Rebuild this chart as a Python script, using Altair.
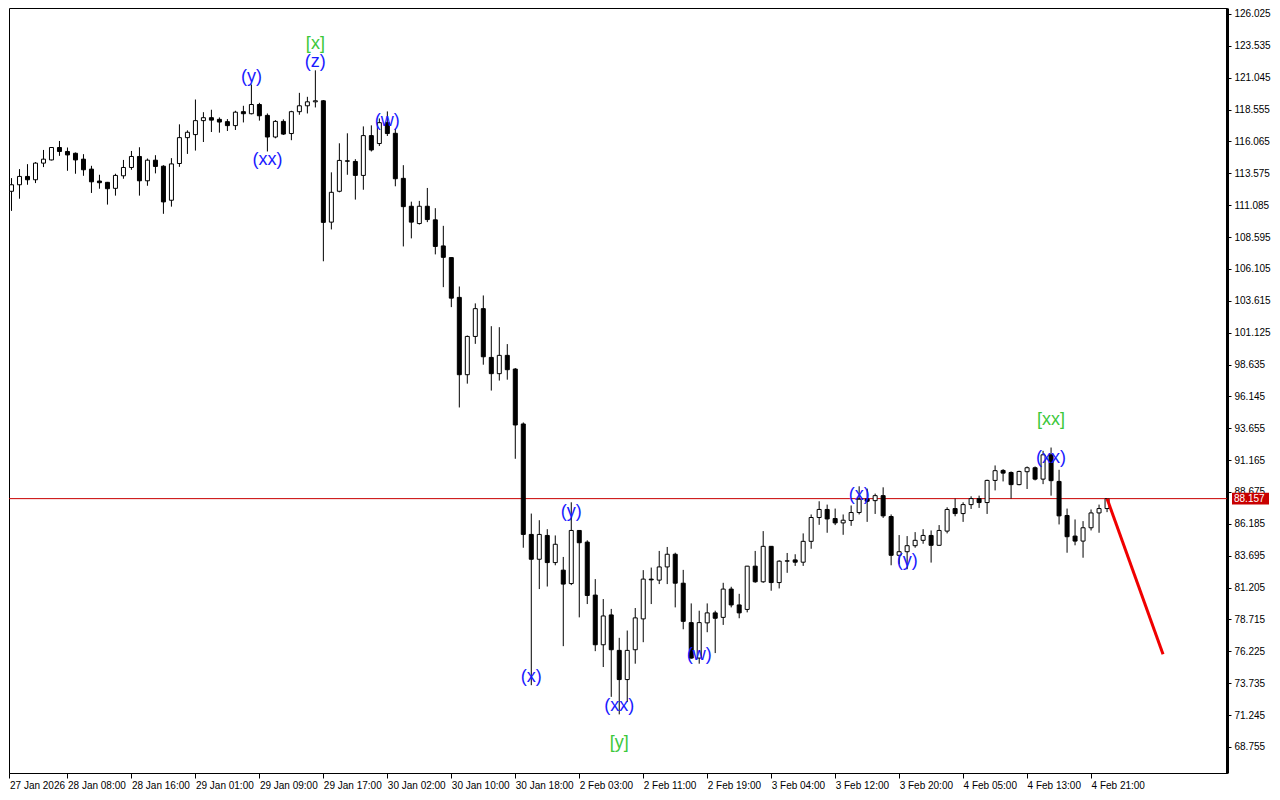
import altair as alt
import pandas as pd

# ---- candle data (hourly bars) ----
opens = [112.17, 112.68, 113.33, 113.07, 114.37, 114.62, 115.59, 115.28, 115.14, 114.68,
         113.90, 112.97, 112.87, 112.40, 113.38, 114.03, 114.89, 112.99, 114.60, 114.13,
         111.47, 114.34, 116.36, 116.60, 117.69, 117.92, 117.79, 117.61, 117.30, 118.39,
         118.23, 118.95, 118.10, 116.41, 117.63, 116.68, 118.39, 118.85, 119.16, 119.24,
         109.76, 112.17, 114.55, 114.50, 113.41, 116.52, 115.90, 117.53, 116.70, 113.18,
         111.00, 109.65, 111.00, 109.94, 107.90, 106.99, 103.88, 97.84, 100.83, 103.00,
         99.19, 97.92, 99.35, 98.28, 93.99, 85.36, 83.42, 85.28, 83.16, 82.57,
         81.52, 85.67, 84.76, 80.62, 76.74, 79.07, 76.30, 74.02, 76.35, 78.76,
         81.87, 81.79, 82.82, 83.81, 81.55, 78.47, 75.70, 78.45, 79.23, 78.88,
         81.09, 79.85, 79.50, 82.88, 81.66, 84.43, 81.60, 83.27, 83.37, 83.19,
         84.82, 86.68, 87.31, 86.60, 86.26, 86.45, 87.07, 88.13, 88.00, 88.39,
         86.76, 83.73, 84.01, 84.48, 84.90, 85.28, 84.51, 85.62, 87.38, 86.99,
         87.69, 88.16, 87.85, 89.58, 90.36, 90.20, 89.25, 90.26, 90.57, 89.68,
         91.58, 89.50, 86.84, 85.23, 84.84, 85.88, 87.04, 87.38]
highs = [113.20, 113.90, 114.29, 114.45, 115.40, 115.62, 116.10, 115.59, 115.20, 115.07,
         114.16, 113.46, 112.90, 113.54, 114.62, 115.32, 115.61, 114.73, 114.99, 114.21,
         114.76, 117.40, 116.93, 119.34, 118.35, 118.54, 117.94, 117.81, 118.46, 118.85,
         120.51, 119.08, 118.25, 117.73, 117.79, 118.46, 119.86, 119.55, 121.62, 119.30,
         113.65, 115.92, 116.70, 114.68, 117.24, 117.32, 117.86, 118.41, 117.06, 114.21,
         111.36, 111.42, 112.43, 110.85, 109.47, 107.00, 104.73, 100.90, 103.41, 104.03,
         101.63, 101.55, 100.23, 98.36, 94.11, 86.99, 86.47, 85.77, 85.28, 83.60,
         87.87, 85.70, 84.90, 81.87, 80.31, 79.54, 77.28, 77.85, 79.61, 82.57,
         82.77, 84.07, 84.38, 83.93, 82.59, 79.97, 79.40, 79.97, 79.40, 81.58,
         81.27, 80.72, 82.90, 84.07, 85.62, 84.45, 83.34, 83.91, 83.81, 85.44,
         86.92, 87.95, 87.69, 87.38, 86.92, 87.62, 89.12, 88.94, 88.55, 89.04,
         86.92, 85.31, 85.23, 85.54, 85.77, 85.67, 86.09, 87.48, 88.16, 87.87,
         88.34, 88.39, 89.64, 90.75, 90.46, 90.28, 90.34, 90.67, 90.67, 91.89,
         92.15, 90.41, 87.38, 86.53, 86.40, 87.31, 87.69, 88.18]
lows = [110.64, 111.59, 112.68, 112.81, 114.06, 114.58, 114.94, 113.77, 113.54, 113.38,
        112.04, 112.37, 111.13, 111.83, 113.15, 113.85, 111.83, 112.60, 113.57, 110.41,
        110.97, 114.08, 115.09, 115.35, 116.02, 116.80, 116.75, 116.88, 116.96, 117.55,
        118.18, 117.69, 115.28, 116.31, 116.57, 116.16, 118.15, 118.25, 118.72, 106.70,
        109.19, 112.09, 113.46, 111.52, 112.29, 115.28, 115.71, 116.49, 112.56, 107.86,
        108.49, 109.57, 109.76, 107.24, 104.68, 103.12, 95.28, 97.14, 100.25, 98.62,
        96.60, 97.38, 97.45, 91.27, 84.32, 73.58, 81.09, 81.29, 82.95, 76.63,
        81.40, 78.88, 79.92, 76.24, 75.00, 72.67, 71.30, 72.28, 75.26, 76.94,
        79.92, 81.48, 81.48, 79.66, 77.95, 75.65, 75.26, 77.72, 76.09, 78.29,
        79.66, 78.81, 79.27, 81.58, 81.58, 80.96, 81.14, 82.36, 82.90, 82.90,
        84.24, 86.11, 85.49, 86.09, 85.33, 86.03, 86.92, 86.34, 86.96, 86.65,
        82.95, 83.03, 82.64, 84.32, 84.63, 83.16, 84.48, 85.44, 86.78, 86.34,
        87.35, 87.43, 86.96, 88.80, 89.50, 88.16, 89.20, 88.91, 89.58, 89.29,
        88.39, 86.14, 83.93, 84.51, 83.54, 85.67, 85.49, 87.10]
closes = [112.68, 113.33, 113.07, 114.37, 114.68, 115.59, 115.28, 115.01, 114.62, 113.85,
          112.91, 112.84, 112.37, 113.41, 114.03, 114.89, 112.99, 114.60, 114.11, 111.34,
          114.31, 116.36, 116.78, 117.69, 117.92, 117.73, 117.58, 117.30, 118.35, 118.23,
          118.95, 118.07, 116.41, 117.63, 116.64, 118.39, 118.85, 119.16, 119.24, 109.74,
          112.09, 114.58, 114.52, 113.41, 116.52, 115.40, 117.53, 116.68, 113.15, 110.97,
          109.76, 111.00, 109.96, 107.86, 107.01, 103.82, 97.84, 100.83, 103.00, 99.24,
          97.92, 99.35, 98.23, 93.91, 85.36, 83.42, 85.36, 83.16, 84.59, 81.48,
          85.67, 84.71, 80.59, 76.74, 78.99, 76.35, 74.02, 76.30, 78.84, 81.87,
          81.81, 82.82, 83.81, 81.55, 78.57, 75.70, 78.47, 79.23, 78.81, 81.09,
          79.85, 79.23, 82.88, 81.66, 84.43, 81.60, 83.27, 83.30, 83.19, 84.82,
          86.68, 87.31, 86.57, 86.26, 86.47, 87.07, 88.11, 87.95, 88.39, 86.81,
          83.73, 84.01, 84.48, 84.90, 85.28, 84.51, 85.67, 87.31, 86.99, 87.69,
          88.16, 87.85, 89.58, 90.34, 90.15, 89.25, 90.28, 90.57, 89.68, 91.58,
          89.56, 86.81, 85.18, 84.84, 85.88, 87.04, 87.38, 88.157]

# ---- axes ----
x_tick_pos = [-0.25, 7, 15, 23, 31, 39, 47, 55, 63, 71, 79, 87, 95, 103, 111, 119, 127, 135]
x_tick_labels = ["27 Jan 2026", "28 Jan 08:00", "28 Jan 16:00", "29 Jan 01:00", "29 Jan 09:00",
                 "29 Jan 17:00", "30 Jan 02:00", "30 Jan 10:00", "30 Jan 18:00", "2 Feb 03:00",
                 "2 Feb 11:00", "2 Feb 19:00", "3 Feb 04:00", "3 Feb 12:00", "3 Feb 20:00",
                 "4 Feb 05:00", "4 Feb 13:00", "4 Feb 21:00"]
y_ticks = [126.025, 123.535, 121.045, 118.555, 116.065, 113.575, 111.085, 108.595, 106.105,
           103.615, 101.125, 98.635, 96.145, 93.655, 91.165, 88.675, 86.185, 83.695, 81.205,
           78.715, 76.225, 73.735, 71.245, 68.755]

current_price = 88.157

# forecast line
forecast_idx = [137, 144]
forecast_price = [88.157, 76.0]

# wave labels
label_text = ["[x]", "(z)", "(y)", "(xx)", "(w)", "(x)", "(y)", "(xx)", "[y]", "(w)",
              "(x)", "(y)", "[xx]", "(xx)"]
label_idx = [38, 38, 30, 32, 47, 65, 70, 76, 76, 86, 106, 112, 130, 130]
label_price = [123.69, 122.29, 121.13, 114.60, 117.63, 74.20, 87.10, 71.94, 69.07, 75.91,
               88.42, 83.29, 94.32, 91.37]
label_kind = ["major", "minor", "minor", "minor", "minor", "minor", "minor", "minor", "major",
              "minor", "minor", "minor", "major", "minor"]

W = 1218
H = 765

candles = pd.DataFrame({
    "i": list(range(len(opens))),
    "open": opens, "high": highs, "low": lows, "close": closes,
})
fc = pd.DataFrame({"i": forecast_idx, "p": forecast_price})
labels = pd.DataFrame({"i": label_idx, "p": label_price, "t": label_text, "k": label_kind})
cur = pd.DataFrame({"p": [current_price], "t": [f"{current_price:.3f}"]})

xscale = alt.Scale(domain=[-0.3125, 152.0], nice=False, zero=False)
yscale = alt.Scale(domain=[66.72, 126.49], nice=False, zero=False)

label_expr = "[" + ",".join("'" + s + "'" for s in x_tick_labels) + "][round((datum.value+1)/8)]"

xaxis = alt.Axis(values=x_tick_pos, labelExpr=label_expr, labelAlign="left", labelPadding=2,
                 tickSize=5, domainColor="black", tickColor="black", labelColor="black",
                 labelFont="Liberation Sans", labelFontSize=10, grid=False, title=None,
                 labelFlush=False, labelOverlap=False)
yaxis = alt.Axis(orient="right", values=y_ticks, format=".3f", tickSize=4, domainWidth=3,
                 domainColor="black", tickColor="black", labelColor="black",
                 labelFont="Liberation Sans", labelFontSize=10, labelPadding=3, grid=False,
                 title=None, labelOverlap=False, labelFlush=False)

wicks = alt.Chart(candles).mark_rule(color="black", strokeWidth=1).encode(
    x=alt.X("i:Q", scale=xscale, axis=xaxis),
    y=alt.Y("low:Q", scale=yscale, axis=yaxis),
    y2="high:Q",
)

bodies = alt.Chart(candles).transform_calculate(
    x0="datum.i - 0.25", x1="datum.i + 0.25"
).mark_rect(stroke="black", strokeWidth=1).encode(
    x=alt.X("x0:Q", scale=xscale, axis=xaxis),
    x2="x1:Q",
    y=alt.Y("open:Q", scale=yscale, axis=yaxis),
    y2="close:Q",
    fill=alt.condition("datum.close >= datum.open", alt.value("white"), alt.value("black")),
)

price_line = alt.Chart(cur).mark_rule(color="#c80000", strokeWidth=1).encode(
    y=alt.Y("p:Q", scale=yscale, axis=yaxis)
)

forecast = alt.Chart(fc).mark_line(color="#f00000", strokeWidth=3).encode(
    x=alt.X("i:Q", scale=xscale, axis=xaxis),
    y=alt.Y("p:Q", scale=yscale, axis=yaxis),
)

wave_text = alt.Chart(labels).mark_text(font="Liberation Sans", fontSize=18,
                                        baseline="middle", align="center").encode(
    x=alt.X("i:Q", scale=xscale, axis=xaxis),
    y=alt.Y("p:Q", scale=yscale, axis=yaxis),
    text="t:N",
    color=alt.Color("k:N", scale=alt.Scale(domain=["minor", "major"],
                                           range=["#1a1aff", "#3cc83c"]), legend=None),
)

price_box = alt.Chart(cur).transform_calculate(
    top="datum.p + 0.46", bot="datum.p - 0.46"
).mark_rect(color="#c80000").encode(
    x=alt.value(W + 5), x2=alt.value(W + 42),
    y=alt.Y("top:Q", scale=yscale, axis=yaxis),
    y2="bot:Q",
)
price_box_text = alt.Chart(cur).mark_text(color="white", font="Liberation Sans",
                                          fontSize=10, align="left",
                                          baseline="middle").encode(
    x=alt.value(W + 7),
    y=alt.Y("p:Q", scale=yscale, axis=yaxis),
    text="t:N",
)

chart = alt.layer(
    price_line, wicks, bodies, forecast, wave_text, price_box, price_box_text
).properties(
    width=W, height=H, padding=0, background="white"
).configure_view(
    stroke="black", strokeWidth=1
).configure_axisY(
    labelOverlap=False
)

chart.save("out.html", embed_options={"renderer": "svg", "actions": False})
